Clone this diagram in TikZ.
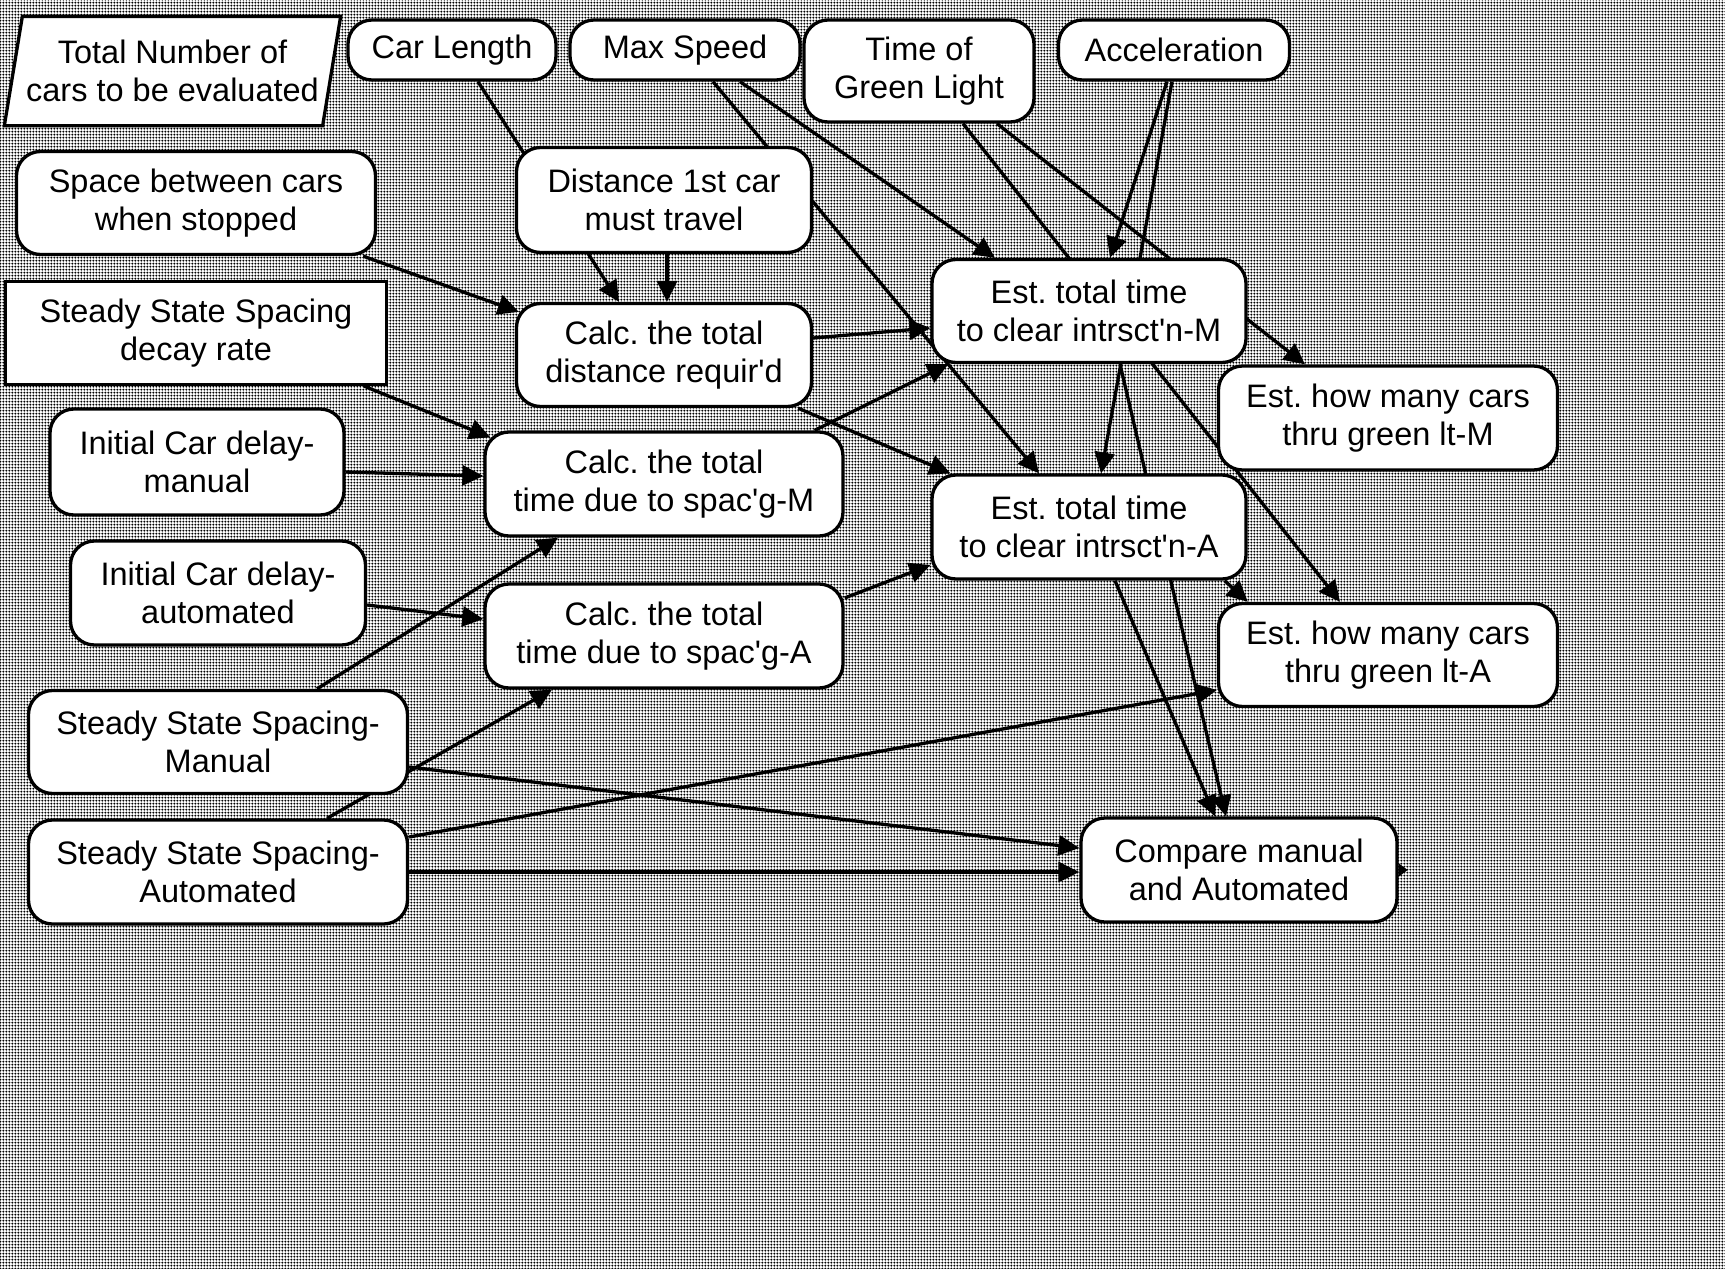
\documentclass[tikz,border=0pt]{standalone}
\usepackage{fontspec}
\setmainfont{Liberation Sans}
\usetikzlibrary{arrows.meta,patterns.meta,calc}

\pgfdeclarelayer{bg}
\pgfdeclarelayer{edges}
\pgfsetlayers{bg,edges,main}

% halftone screen of the page background
\tikzdeclarepattern{
  name=halftone,
  type=uncolored,
  bottom left={(0pt,0pt)},
  top right={(3.3pt,3.3pt)},
  tile size={(3.3pt,3.3pt)},
  code={\fill (1.65pt,1.65pt) circle (1.33pt);}
}

\tikzset{
  box/.style={draw, line width=3.3pt, rounded corners=24pt, fill=white,
    inner sep=0pt, align=center, font=\frenchspacing\fontsize{32.5}{38}\selectfont},
  sqbox/.style={box, rounded corners=0pt},
  sz/.style 2 args={minimum width=#1, minimum height=#2},
  link/.style={line width=3.3pt, -{Triangle[length=21pt,width=20pt]}},
  stub/.style={line width=2pt, -{Triangle[length=9pt,width=13pt]}},
}

\begin{document}
\begin{tikzpicture}[x=1pt,y=-1pt]
\useasboundingbox (0,0) rectangle (1725,1269);

\begin{pgfonlayer}{bg}
  \fill[white] (0,0) rectangle (1725,1269);
  \fill[pattern=halftone, pattern color=black] (0,0) rectangle (1725,1269);
\end{pgfonlayer}

% inputs along the top
\node[box, draw=none, fill=none, sz={333}{106}] (tot) at (172.5,71) {Total Number of\\cars to be evaluated};
\node[box, sz={208}{60}] (car) at (452,50) {Car Length};
\node[box, sz={230}{60}] (maxs) at (685,50) {Max Speed};
\node[box, sz={230}{102}] (tgreen) at (919,71) {Time of\\Green Light};
\node[box, sz={231}{60}] (accel) at (1174,50) {Acceleration};

% left column
\node[box, sz={359}{103}] (space) at (196,203) {Space between cars\\when stopped};
\node[sqbox, sz={381}{103}] (decay) at (196,333) {Steady State Spacing\\decay rate};
\node[box, sz={294}{106}] (initM) at (197,462) {Initial Car delay-\\manual};
\node[box, sz={295}{104}] (initA) at (218,593) {Initial Car delay-\\automated};
\node[box, sz={379}{103}] (sssM) at (218,742) {Steady State Spacing-\\Manual};
\node[box, sz={379}{104}] (sssA) at (218,872) {Steady State Spacing-\\Automated};

% middle column
\node[box, sz={295}{105}] (dist) at (664,200) {Distance 1st car\\must travel};
\node[box, sz={295}{103}] (cdist) at (664,355) {Calc. the total\\distance requir\textquotesingle d};
\node[box, sz={358}{104}] (calcM) at (664,484) {Calc. the total\\time due to spac\textquotesingle g-M};
\node[box, sz={358}{104}] (calcA) at (664,636) {Calc. the total\\time due to spac\textquotesingle g-A};

% right columns
\node[box, sz={314}{103}] (estM) at (1089,311) {Est. total time\\to clear intrsct\textquotesingle n-M};
\node[box, sz={314}{104}] (estA) at (1089,527) {Est. total time\\to clear intrsct\textquotesingle n-A};
\node[box, sz={339}{104}] (howM) at (1388,418) {Est. how many cars\\thru green lt-M};
\node[box, sz={339}{103}] (howA) at (1388,655) {Est. how many cars\\thru green lt-A};
\node[box, sz={316}{104}] (cmp) at (1239,870) {Compare manual\\and Automated};
\coordinate (out) at ($(cmp.east)+(9,0)$);

\begin{pgfonlayer}{edges}
  % slanted frame of the data input
  \draw[line width=3.3pt, fill=white] ($(tot.north west)+(18,0)$) -- (tot.north east)
    -- ($(tot.south east)+(-18,0)$) -- (tot.south west) -- cycle;

  \draw[link] ([xshift=26pt]car.south) -- ([xshift=-45pt]cdist.north);
  \draw[link] ([xshift=3pt]dist.south) -- ([xshift=3pt]cdist.north);
  \draw[link] ([xshift=28pt]maxs.south) -- ([xshift=-50pt]estA.north);
  \draw[link] ([xshift=55pt]maxs.south) -- ([xshift=-94pt]estM.north);
  \draw[link] ([xshift=44pt]tgreen.south) -- ([xshift=-48pt]howA.north);
  \draw[link] ([xshift=78pt]tgreen.south) -- ([xshift=-83pt]howM.north);
  \draw[link] ([xshift=-7pt]accel.south) -- ([xshift=21pt]estM.north);
  \draw[link] ([xshift=-2pt]accel.south) -- ([xshift=12pt]estA.north);

  \draw[link] ([xshift=-14pt]space.south east) -- ([xshift=4pt,yshift=-10pt]cdist.north west);
  \draw[link] ([xshift=-24pt]decay.south east) -- ([xshift=7pt,yshift=-7pt]calcM.north west);
  \draw[link] ([yshift=-10pt]initM.east) -- ([yshift=8pt]calcM.west);
  \draw[link] ([yshift=-12pt]initA.east) -- ([yshift=17pt]calcA.west);
  \draw[link] ([xshift=99pt]sssM.north) -- ([xshift=-106pt]calcM.south);
  \draw[link] ([xshift=109pt]sssA.north) -- ([xshift=-112pt]calcA.south);
  \draw[link] ([yshift=-25pt]sssM.east) -- ([yshift=22pt]cmp.west);
  \draw[link] (sssA.east) -- (sssA.east -| cmp.west);
  \draw[link] ([yshift=35pt]sssA.east) -- ([yshift=-35pt]howA.west);

  \draw[link] ([yshift=17pt]cdist.east) -- ([yshift=-17pt]estM.west);
  \draw[link] ([xshift=-30pt]calcM.north east) -- ([xshift=18pt]estM.south west);
  \draw[link] ([xshift=-15pt]cdist.south east) -- ([xshift=20pt]estA.north west);
  \draw[link] ([yshift=38pt]calcA.east) -- ([yshift=-38pt]estA.west);

  \draw[link] ([xshift=-23pt]estA.south east) -- ([xshift=31pt]howA.north west);
  \draw[link] ([xshift=26pt]estA.south) -- ([xshift=-24pt]cmp.north);
  \draw[link] ([xshift=31pt]estM.south) -- ([xshift=-13pt]cmp.north);
  \draw[stub] (cmp.east) -- (out);
\end{pgfonlayer}
\end{tikzpicture}
\end{document}
